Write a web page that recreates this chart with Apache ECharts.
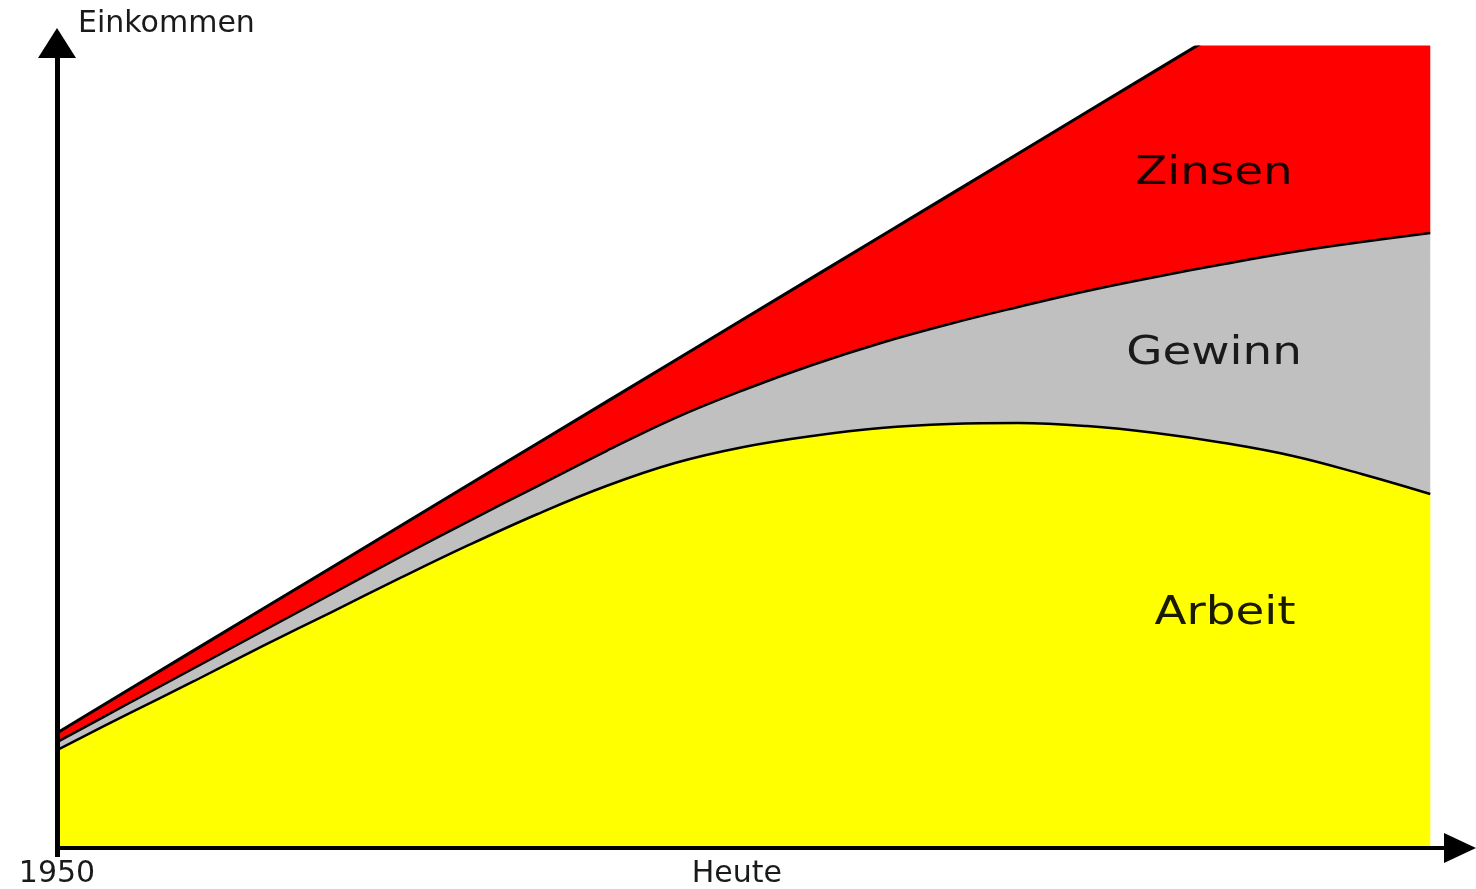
<!DOCTYPE html>
<html>
<head>
<meta charset="utf-8">
<script src="https://cdn.jsdelivr.net/npm/echarts@6/dist/echarts.min.js"></script>
<style>html,body{margin:0;padding:0;background:#fff}#c{width:1476px;height:889px}</style>
</head>
<body>
<div id="c"></div>
<script>
// time positions (0 = 1950 ... 100 = right edge of the drawing)
const xs = [0,5,10,15,20,25,30,35,40,45,50,55,60,65,70,75,80,85,90,95,100];
// stacked income components
const arbeit = [12.23,16.60,20.85,25.22,29.46,33.71,37.83,41.70,45.19,48.06,50.06,51.44,52.43,52.93,53.06,52.68,51.81,50.56,48.94,46.69,44.19];
const gewinn = [1.00,1.25,1.62,1.87,2.25,2.62,2.99,3.49,4.37,5.62,7.12,8.86,10.62,12.49,14.48,16.86,19.48,22.35,25.47,28.97,32.59];
const zinsen = [1.13,1.68,2.23,2.77,3.32,3.87,4.55,5.35,6.14,7.19,8.86,10.91,13.33,16.12,19.17,22.34,25.76,29.31,32.97,36.89,40.94];
// axis texts
const xTickValues = [0, 49.5];
const xTickLabels = ['1950', 'Heute'];
const yAxisName = 'Einkommen';
const seriesNames = ['Arbeit', 'Gewinn', 'Zinsen'];

// value first, time second (so the stack is applied to the value dimension)
const pair = arr => xs.map((x, i) => [arr[i], x]);
const FONT = 'DejaVu Sans';

const chart = echarts.init(document.getElementById('c'), null, {renderer: 'canvas'});
const common = {type: 'line', stack: 'total', showSymbol: false, encode: {x: 1, y: 0}};
chart.setOption({
  animation: false,
  backgroundColor: '#ffffff',
  grid: {left: 57, right: 32, top: 47, bottom: 41},
  xAxis: {
    type: 'value', min: 0, max: 101, z: 10,
    splitLine: {show: false},
    axisLine: {show: true, onZero: false, lineStyle: {color: '#000', width: 4},
      symbol: ['none', 'triangle'], symbolSize: [30, 32], symbolOffset: [0, 16]},
    axisTick: {show: true, customValues: [0], length: 9, lineStyle: {color: '#000', width: 5}},
    axisLabel: {
      customValues: xTickValues, margin: 11,
      fontFamily: FONT, fontSize: 30, color: '#1a1a1a',
      formatter: v => { const i = xTickValues.indexOf(v); return i >= 0 ? xTickLabels[i] : ''; }
    }
  },
  yAxis: {
    type: 'value', min: 0, max: 100, z: 10,
    name: yAxisName, nameLocation: 'end', nameGap: 23,
    nameTextStyle: {fontFamily: FONT, fontSize: 30, color: '#1a1a1a', align: 'left', verticalAlign: 'middle', padding: [0, 0, 0, 21]},
    splitLine: {show: false},
    axisLine: {show: true, lineStyle: {color: '#000', width: 5},
      symbol: ['none', 'triangle'], symbolSize: [38, 30], symbolOffset: [0, 4]},
    axisTick: {show: false},
    axisLabel: {show: false}
  },
  series: [
    Object.assign({}, common, {name: seriesNames[0], data: pair(arbeit), smooth: 0.4,
     lineStyle: {color: '#000', width: 2.5}, areaStyle: {color: '#FFFF00', opacity: 1}, z: 4}),
    Object.assign({}, common, {name: seriesNames[1], data: pair(gewinn), smooth: 0.4,
     lineStyle: {color: '#000', width: 2.5}, areaStyle: {color: '#C0C0C0', opacity: 1}, z: 3}),
    Object.assign({}, common, {name: seriesNames[2], data: pair(zinsen), smooth: false, clip: true,
     lineStyle: {color: '#000', width: 3}, areaStyle: {color: '#FF0000', opacity: 1}, z: 2})
  ],
  graphic: [
    {type: 'text', x: 1214, y: 174, scaleX: 1.2, z: 100,
     style: {text: seriesNames[2], font: '39px "DejaVu Sans"', fill: '#1a0000', align: 'center', verticalAlign: 'middle'}},
    {type: 'text', x: 1214, y: 354, scaleX: 1.2, z: 100,
     style: {text: seriesNames[1], font: '39px "DejaVu Sans"', fill: '#1a1a1a', align: 'center', verticalAlign: 'middle'}},
    {type: 'text', x: 1225, y: 614, scaleX: 1.2, z: 100,
     style: {text: seriesNames[0], font: '39px "DejaVu Sans"', fill: '#1a1a00', align: 'center', verticalAlign: 'middle'}}
  ]
});
</script>
</body>
</html>
